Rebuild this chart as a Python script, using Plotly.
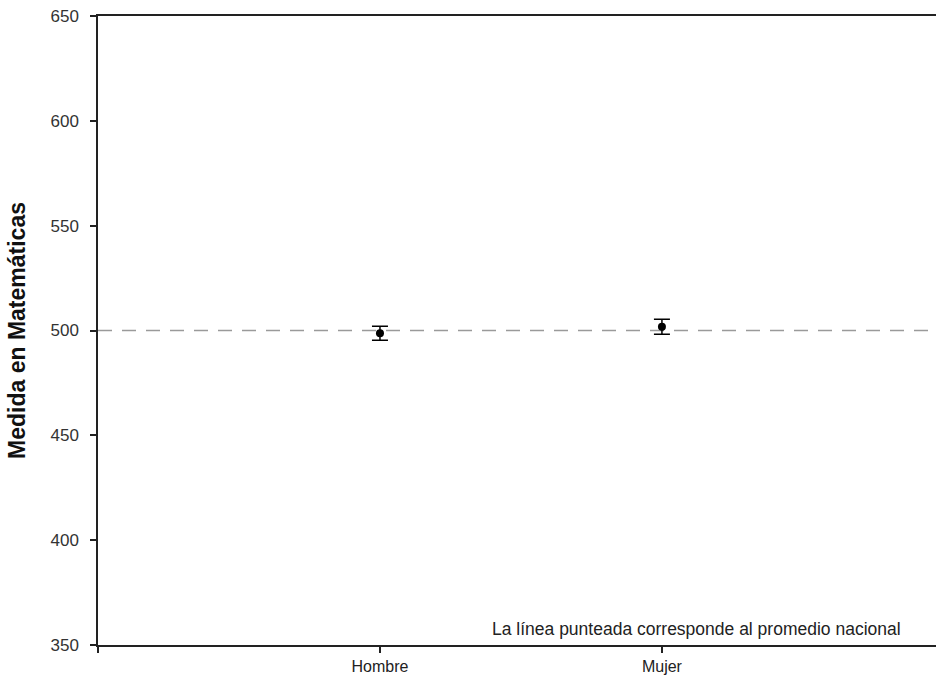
import plotly.graph_objects as go

categories = ["Hombre", "Mujer"]
cat_pos = [1, 2]
means = [498.7, 501.8]
errors = [3.3, 3.6]
national_avg = 500
y_ticks = [350, 400, 450, 500, 550, 600, 650]

fig = go.Figure()
fig.add_trace(go.Scatter(
    x=cat_pos, y=means, mode="markers",
    marker=dict(color="black", size=8),
    error_y=dict(type="data", array=errors, visible=True, color="black", thickness=1.5, width=8),
    showlegend=False, hoverinfo="skip"))

fig.add_shape(type="line", xref="paper", yref="y", x0=0, x1=1, y0=national_avg, y1=national_avg,
              line=dict(color="#9a9a9a", width=1.5, dash="14px,10px"), layer="below")

fig.add_annotation(xref="paper", yref="y", x=0.9606, y=357.7, xanchor="right", yanchor="middle",
                   text="La línea punteada corresponde al promedio nacional", showarrow=False,
                   font=dict(size=17.5, color="#222", family="Liberation Sans, Arial"))

fig.update_layout(
    width=936, height=681, margin=dict(l=98, r=0, t=16, b=36),
    plot_bgcolor="white", paper_bgcolor="white",
    font=dict(family="Liberation Sans, Arial", size=16, color="#333"),
    xaxis=dict(range=[0, 2.972], tickvals=[0] + cat_pos, ticktext=[""] + categories,
               showgrid=False, zeroline=False, showline=True, linecolor="#222", linewidth=1.5,
               mirror=True, ticks="outside", ticklen=6, tickcolor="#222", tickwidth=1.5,
               tickfont=dict(size=16, color="#222")),
    yaxis=dict(range=[350, 650], tickvals=y_ticks, showgrid=False, zeroline=False,
               showline=True, linecolor="#222", linewidth=1.5, ticks="outside", ticklen=6,
               tickcolor="#222", tickwidth=1.5, tickfont=dict(size=17, color="#333"),
               ticklabelstandoff=8,
               title=dict(text="<b>Medida en Matemáticas</b>", font=dict(size=23, color="#111"), standoff=18)),
)

fig.write_html("out.html")
